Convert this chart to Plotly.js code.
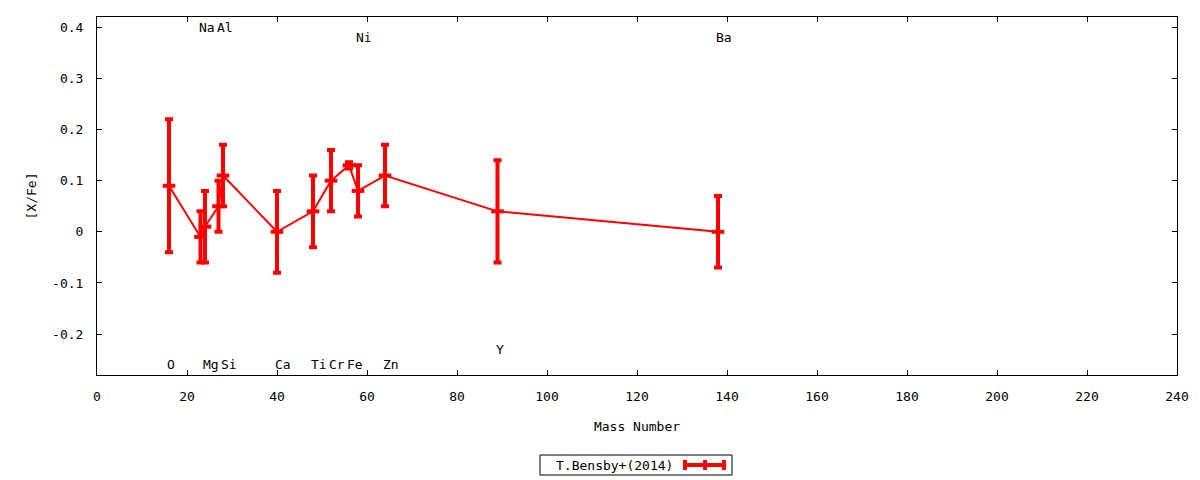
<!DOCTYPE html>
<html>
<head>
<meta charset="utf-8">
<script src="https://cdn.plot.ly/plotly-3.0.1.min.js"></script>
<style>html,body{margin:0;padding:0;background:#fff;}#chart{width:1200px;height:480px;}</style>
</head>
<body>
<div id="chart"></div>
<script>
// Data
const elements = ['O','Na','Mg','Al','Si','Ca','Ti','Cr','Fe','Ni','Zn','Y','Ba'];
const massNumber = [16,23,24,27,28,40,48,52,56,58,64,89,138];
const xFe = [0.09,-0.01,0.01,0.05,0.11,0.00,0.04,0.10,0.13,0.08,0.11,0.04,0.00];
const xFeErr = [0.13,0.05,0.07,0.05,0.06,0.08,0.07,0.06,0.006,0.05,0.06,0.10,0.07];
const labelY = [-0.26,0.40,-0.26,0.40,-0.26,-0.26,-0.26,-0.26,-0.26,0.38,-0.26,-0.23,0.38];
const xTicks = [0,20,40,60,80,100,120,140,160,180,200,220,240];
const yTicks = [-0.2,-0.1,0,0.1,0.2,0.3,0.4];
const yTickText = ['-0.2','-0.1','0','0.1','0.2','0.3','0.4'];
const seriesName = 'T.Bensby+(2014)';

const FONT = 'DejaVu Sans Mono, monospace';
const RED = '#ff0000';

const trace = {
  x: massNumber, y: xFe, type: 'scatter', mode: 'lines+markers',
  name: seriesName, showlegend: false,
  line: {color: RED, width: 2},
  marker: {symbol: 'line-ew', size: 9, color: RED, line: {color: RED, width: 4}},
  error_y: {type: 'data', array: xFeErr, visible: true, color: RED, thickness: 4, width: 4},
  cliponaxis: false
};

const annotations = elements.map((el, i) => ({
  x: massNumber[i], y: labelY[i], xref: 'x', yref: 'y', text: el,
  showarrow: false, xanchor: 'left', yanchor: 'middle', xshift: -4,
  font: {family: FONT, size: 13, color: '#000'}
}));

// custom gnuplot-style legend (text left, sample right)
const L = 97, R = 1177, T = 17, B = 375;
const px = v => (v - L) / (R - L);
const py = v => (B - v) / (B - T);
annotations.push({
  x: px(614), y: py(465), xref: 'paper', yref: 'paper', text: seriesName,
  showarrow: false, xanchor: 'center', yanchor: 'middle',
  font: {family: FONT, size: 13, color: '#000'}
});
const shapes = [
  {type: 'rect', xref: 'paper', yref: 'paper', x0: px(540), x1: px(732), y0: py(475), y1: py(455),
   line: {color: '#000', width: 1}, fillcolor: 'rgba(0,0,0,0)'},
  {type: 'line', xref: 'paper', yref: 'paper', x0: px(684), x1: px(725), y0: py(465), y1: py(465),
   line: {color: RED, width: 4}},
  {type: 'line', xref: 'paper', yref: 'paper', x0: px(685), x1: px(685), y0: py(460), y1: py(470),
   line: {color: RED, width: 4}},
  {type: 'line', xref: 'paper', yref: 'paper', x0: px(705), x1: px(705), y0: py(460), y1: py(470),
   line: {color: RED, width: 4}},
  {type: 'line', xref: 'paper', yref: 'paper', x0: px(724), x1: px(724), y0: py(460), y1: py(470),
   line: {color: RED, width: 4}}
];

const axisCommon = {
  showline: true, linecolor: '#000', linewidth: 1, mirror: 'ticks',
  ticks: 'inside', ticklen: 5, tickcolor: '#000', tickwidth: 1,
  showgrid: false, zeroline: false,
  tickfont: {family: FONT, size: 13, color: '#000'}
};

const layout = {
  width: 1200, height: 480,
  margin: {l: 97, r: 23, t: 17, b: 105},
  paper_bgcolor: '#fff', plot_bgcolor: '#fff',
  font: {family: FONT, size: 13, color: '#000'},
  xaxis: Object.assign({}, axisCommon, {
    range: [0, 240], tickmode: 'array', tickvals: xTicks, ticklabelstandoff: 9,
    title: {text: 'Mass Number', font: {family: FONT, size: 13}, standoff: 19}
  }),
  yaxis: Object.assign({}, axisCommon, {
    range: [-0.28, 0.42], tickmode: 'array', tickvals: yTicks, ticktext: yTickText, ticklabelstandoff: 10,
    title: {text: '[X/Fe]', font: {family: FONT, size: 13}, standoff: 12}
  }),
  annotations: annotations,
  shapes: shapes,
  showlegend: false
};

Plotly.newPlot('chart', [trace], layout, {displayModeBar: false, staticPlot: true});
</script>
</body>
</html>
